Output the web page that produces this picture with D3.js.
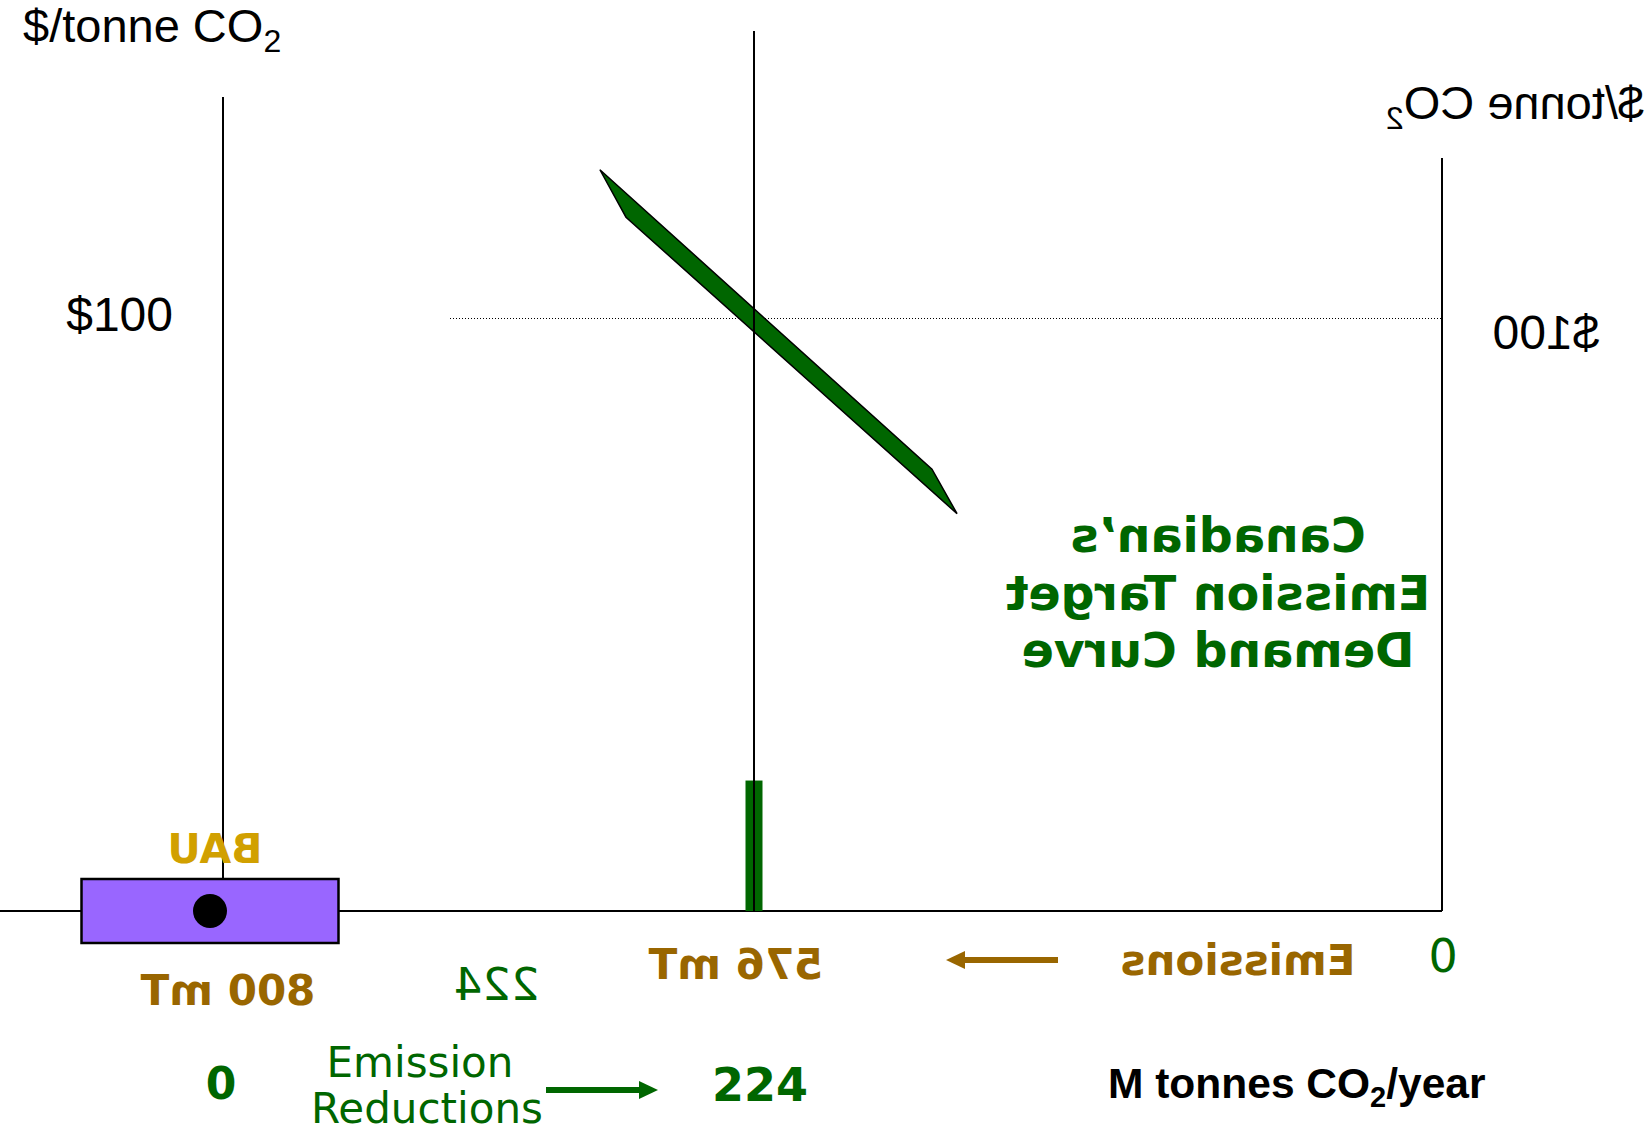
<!DOCTYPE html>
<html>
<head>
<meta charset="utf-8">
<script src="https://cdn.jsdelivr.net/npm/d3@7"></script>
<style>
  html, body { margin: 0; padding: 0; background: #ffffff; }
  svg { display: block; }
</style>
</head>
<body>
<script>
// ---------------- data ----------------
const emissionValues = [0, 576, 800];              // M tonnes CO2 / year (mirrored axis)
const emissionLabels = ["0", "576 mT", "800 mT"];
const priceTicks = [100];
const priceTickLabels = ["$100"];
const bauEmissions = 800;
const bauLabel = "BAU";
const targetEmissions = 576;
const targetBarPrice = [22];                        // green bar at the target
// demand curve band, vertices as [emissions, price]
const demandCurve = [[641, 125], [427, 74.5], [406, 67], [630, 117]];
const demandLabel = ["Canadian\u2019s", "Emission Target", "Demand Curve"];
const reductionValues = [0, 224];
const reductionLabels = ["0", "224"];
const reductionGapLabel = "224";
const reductionTitle = ["Emission", "Reductions"];
const emissionsTitle = "Emissions";
const yTitle = "$/tonne CO";
const xTitle = ["M tonnes CO", "2", "/year"];

// ---------------- setup ----------------
const W = 1647, H = 1134;
const GREEN = "#006600", BROWN = "#996600", GOLD = "#D1A000";
const svg = d3.select("body").append("svg").attr("width", W).attr("height", H);

const x = d3.scaleLinear().domain([0, 576, 800]).range([1442, 754, 223]);
const y = d3.scaleLinear().domain([0, 100]).range([911, 318]);
const xr = d3.scaleLinear().domain([0, 224]).range([223, 754]);

const ARIAL = "'Liberation Sans', Arial, sans-serif";
const VERD = "'DejaVu Sans', Verdana, sans-serif";

function mirrored(cx, by, txt, opts) {
  const g = svg.append("g").attr("transform", `translate(${cx},${by}) scale(-1,1)`);
  const t = g.append("text").attr("x", 0).attr("y", 0)
    .attr("text-anchor", "middle")
    .attr("font-family", opts.family || VERD)
    .attr("font-size", opts.size)
    .attr("font-weight", opts.weight || "normal")
    .attr("fill", opts.fill || "#000");
  if (typeof txt === "string") t.text(txt);
  else txt(t);
  return g;
}

// dotted $100 guideline
svg.append("line")
  .attr("x1", 450).attr("x2", x(0))
  .attr("y1", y(priceTicks[0]) + 0.5).attr("y2", y(priceTicks[0]) + 0.5)
  .attr("stroke", "#000").attr("stroke-width", 1).attr("stroke-dasharray", "1,2");

// horizontal axis
svg.append("line").attr("x1", 0).attr("x2", x(0)).attr("y1", y(0)).attr("y2", y(0))
  .attr("stroke", "#000").attr("stroke-width", 2);
// left vertical axis at BAU
svg.append("line").attr("x1", x(bauEmissions)).attr("x2", x(bauEmissions))
  .attr("y1", 97).attr("y2", y(0)).attr("stroke", "#000").attr("stroke-width", 2);
// right vertical axis at 0
svg.append("line").attr("x1", x(0)).attr("x2", x(0))
  .attr("y1", 158).attr("y2", y(0)).attr("stroke", "#000").attr("stroke-width", 2);

// BAU box + dot
const boxW = 257, boxH = 64, bauShift = -13;
svg.append("rect")
  .attr("x", x(bauEmissions) + bauShift - boxW / 2).attr("y", y(0) - 32)
  .attr("width", boxW).attr("height", boxH)
  .attr("fill", "#9966FF").attr("stroke", "#000").attr("stroke-width", 2.5);
svg.append("circle").attr("cx", x(bauEmissions) + bauShift).attr("cy", y(0)).attr("r", 17).attr("fill", "#000");

// target green bar
svg.selectAll("rect.target").data(targetBarPrice).join("rect").attr("class", "target")
  .attr("x", x(targetEmissions) - 8.5).attr("width", 17)
  .attr("y", d => y(d)).attr("height", d => y(0) - y(d))
  .attr("fill", GREEN);

// demand curve band
svg.append("path")
  .attr("d", d3.line().x(d => x(d[0])).y(d => y(d[1])).curve(d3.curveLinearClosed)(demandCurve))
  .attr("fill", GREEN).attr("stroke", "#000").attr("stroke-width", 1.5).attr("stroke-linejoin", "miter");

// middle vertical line at target
svg.append("line").attr("x1", x(targetEmissions)).attr("x2", x(targetEmissions))
  .attr("y1", 31).attr("y2", y(0)).attr("stroke", "#000").attr("stroke-width", 2);

// top-left y title
const tl = svg.append("text").attr("x", 23).attr("y", 42)
  .attr("font-family", ARIAL).attr("font-size", 47).attr("fill", "#000");
tl.append("tspan").text(yTitle);
tl.append("tspan").attr("font-size", 32).attr("dy", 10).text("2");

// mirrored right title
mirrored(1515, 119, t => {
  t.append("tspan").text(yTitle);
  t.append("tspan").attr("font-size", 32).attr("dy", 10).text("2");
}, { family: ARIAL, size: 47 });

// $100 labels
svg.append("text").attr("x", x(bauEmissions) - 50).attr("y", y(priceTicks[0]) + 13)
  .attr("text-anchor", "end").attr("font-family", ARIAL).attr("font-size", 48)
  .text(priceTickLabels[0]);
mirrored(1546, y(priceTicks[0]) + 31, priceTickLabels[0], { family: ARIAL, size: 48 });

// demand curve label (mirrored)
demandLabel.forEach((s, i) => {
  mirrored(1218, 552 + i * 57.5, s, { size: 47.5, weight: "bold", fill: GREEN });
});

// BAU label
mirrored(x(bauEmissions) - 8, 863, bauLabel, { size: 41, weight: "bold", fill: GOLD });

// emission tick labels (mirrored)
mirrored(x(800) + 5, 1005, emissionLabels[2], { size: 42, weight: "bold", fill: BROWN });
mirrored(x(576) - 18, 979, emissionLabels[1], { size: 42, weight: "bold", fill: BROWN });
mirrored(x(0) + 1, 972, emissionLabels[0], { size: 46, fill: GREEN });
// reduction gap label
mirrored(x((576 + 800) / 2) + 8, 1000, reductionGapLabel, { size: 45, fill: GREEN });

// Emissions arrow (pointing left) and label
svg.append("line").attr("x1", 960).attr("x2", 1058).attr("y1", 960).attr("y2", 960)
  .attr("stroke", BROWN).attr("stroke-width", 6);
svg.append("path").attr("d", "M946,960 L965,951 L965,969 Z").attr("fill", BROWN);
mirrored(1238, 975, emissionsTitle, { size: 42, weight: "bold", fill: BROWN });

// bottom reductions row
svg.append("text").attr("x", xr(reductionValues[0]) - 2).attr("y", 1099)
  .attr("text-anchor", "middle").attr("font-family", VERD).attr("font-size", 44)
  .attr("font-weight", "bold").attr("fill", GREEN).text(reductionLabels[0]);
svg.append("text").attr("x", xr(reductionValues[1]) + 6).attr("y", 1101)
  .attr("text-anchor", "middle").attr("font-family", VERD).attr("font-size", 46)
  .attr("font-weight", "bold").attr("fill", GREEN).text(reductionLabels[1]);
svg.append("text").attr("x", 420).attr("y", 1077).attr("text-anchor", "middle")
  .attr("font-family", VERD).attr("font-size", 42).attr("fill", GREEN).text(reductionTitle[0]);
svg.append("text").attr("x", 427).attr("y", 1123).attr("text-anchor", "middle")
  .attr("font-family", VERD).attr("font-size", 42).attr("fill", GREEN).text(reductionTitle[1]);
svg.append("line").attr("x1", 546).attr("x2", 640).attr("y1", 1090).attr("y2", 1090)
  .attr("stroke", GREEN).attr("stroke-width", 6);
svg.append("path").attr("d", "M658,1090 L639,1081 L639,1099 Z").attr("fill", GREEN);

// x title
const xt = svg.append("text").attr("x", 1108).attr("y", 1098)
  .attr("font-family", ARIAL).attr("font-size", 42.5).attr("font-weight", "bold").attr("fill", "#000");
xt.append("tspan").text(xTitle[0]);
xt.append("tspan").attr("font-size", 29).attr("dy", 9).text(xTitle[1]);
xt.append("tspan").attr("dy", -9).text(xTitle[2]);
</script>
</body>
</html>
